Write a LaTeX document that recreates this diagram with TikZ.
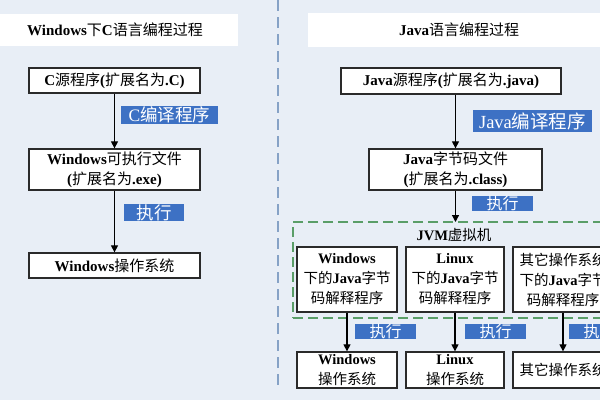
\documentclass[tikz,border=0pt]{standalone}
\usepackage{fontspec}
\setmainfont{Liberation Serif}
\newfontfamily\zhfont{Noto Sans CJK SC}
\newcommand\zh[1]{{\zhfont\mdseries #1}}
\usetikzlibrary{arrows.meta}
\definecolor{bgc}{HTML}{E8EEF6}
\definecolor{lblue}{HTML}{3D71C4}
\definecolor{sepc}{HTML}{86A2C6}
\definecolor{jvmg}{HTML}{5A9E68}
\definecolor{boxline}{HTML}{2A2A2A}
\tikzset{
  titlebox/.style={fill=white, inner sep=0pt, font=\bfseries\fontsize{15}{18}\selectfont},
  stepbox/.style={draw=boxline, line width=1.3pt, fill=white, inner sep=0pt, align=center,
    font=\bfseries\fontsize{15}{20.5}\selectfont},
  vmbox/.style={draw=boxline, line width=1.3pt, fill=white, inner sep=0pt, align=center,
    minimum width=100pt, font=\bfseries\fontsize{14.5}{20}\selectfont},
  lbl/.style={fill=lblue, text=white, inner sep=0pt, font=\fontsize{17.5}{18}\selectfont},
  arr/.style={line width=1.2pt, draw=black, -{Triangle[width=7pt,length=7pt]}},
  sepline/.style={draw=sepc, line width=1.8pt, dash pattern=on 11pt off 6pt},
  jvmframe/.style={draw=jvmg, line width=1.8pt, dash pattern=on 10pt off 5pt, inner sep=0pt}
}
\begin{document}
\begin{tikzpicture}[x=1pt,y=-1pt]
\useasboundingbox (0,0) rectangle (600,400);
\fill[bgc] (0,0) rectangle (600,400);

% separator
\coordinate (vt) at (278,0);
\coordinate (vb) at (278,391);
\draw[sepline] (vt) -- (vb);

% titles
\node[titlebox, minimum width=238pt, minimum height=32pt] (t1) at (119,30)
  {Windows\zh{下}C\zh{语言编程过程}\hspace*{8pt}};
\node[titlebox, minimum width=302pt, minimum height=34pt] (t2) at (459,30)
  {Java\zh{语言编程过程}};

% left column
\node[stepbox, minimum width=171pt, minimum height=25pt] (cs) at (114.5,80.5)
  {C\zh{源程序}(\zh{扩展名为}.C)};
\node[stepbox, minimum width=171pt, minimum height=41pt] (cexe) at (114.5,169.5)
  {Windows\zh{可执行文件}\\(\zh{扩展名为}.exe)};
\node[stepbox, minimum width=171pt, minimum height=25pt] (cos) at (114.5,265.5)
  {Windows\zh{操作系统}};
\draw[arr] (cs) -- (cexe);
\draw[arr] (cexe) -- (cos);
\node[lbl, minimum width=97pt, minimum height=18pt] (l1) at (169.5,115) {C\zh{编译程序}};
\node[lbl, minimum width=60pt, minimum height=17pt] (l2) at (154,212.5) {\zh{执行}};

% right column
\node[stepbox, minimum width=220pt, minimum height=26pt] (js) at (451,81)
  {Java\zh{源程序}(\zh{扩展名为}.java)};
\node[stepbox, minimum width=173pt, minimum height=41pt] (jc) at (455.5,169.5)
  {Java\zh{字节码文件}\\(\zh{扩展名为}.class)};
\draw[arr] (js.south -| jc.north) -- (jc.north);
\node[lbl, minimum width=119pt, minimum height=22pt, font=\fontsize{18.5}{19}\selectfont] (l3) at (532.5,121) {Java\zh{编译程序}};

\node[jvmframe, minimum width=317pt, minimum height=96pt] (jvm) at (451.5,270) {};
\coordinate (jvmin) at (455.5,222);
\draw[arr] (jc.south) -- (jvmin);
\node[lbl, minimum width=61pt, minimum height=14pt, font=\fontsize{16}{16}\selectfont] (l4) at (502.5,203.5) {\zh{执行}};
\node[font=\bfseries\fontsize{14.5}{16}\selectfont, inner sep=0pt] (jvmt) at (454,235) {JVM\zh{虚拟机}};

\node[vmbox, minimum height=65pt] (i1) at (347,279.5) {Windows\\\zh{下的}Java\zh{字节}\\\zh{码解释程序}};
\node[vmbox, minimum height=65pt, minimum width=98pt] (i2) at (455,279.5) {Linux\\\zh{下的}Java\zh{字节}\\\zh{码解释程序}};
\node[vmbox, minimum height=65pt] (i3) at (563,279.5) {\zh{其它操作系统}\\\zh{下的}Java\zh{字节}\\\zh{码解释程序}};

\node[vmbox, minimum height=36pt] (o1) at (347,370) {Windows\\\zh{操作系统}};
\node[vmbox, minimum height=36pt, minimum width=98pt] (o2) at (455,370) {Linux\\\zh{操作系统}};
\node[vmbox, minimum height=36pt] (o3) at (563,370) {\zh{其它操作系统}};

\draw[arr] (i1) -- (o1);
\draw[arr] (i2) -- (o2);
\draw[arr] (i3) -- (o3);

\node[lbl, minimum width=61pt, minimum height=15pt, font=\fontsize{16}{16}\selectfont] (l5) at (385.5,331.5) {\zh{执行}};
\node[lbl, minimum width=61pt, minimum height=15pt, font=\fontsize{16}{16}\selectfont] (l6) at (495.5,331.5) {\zh{执行}};
\node[lbl, minimum width=61pt, minimum height=15pt, font=\fontsize{16}{16}\selectfont] (l7) at (599.5,331.5) {\zh{执行}};
\end{tikzpicture}
\end{document}
